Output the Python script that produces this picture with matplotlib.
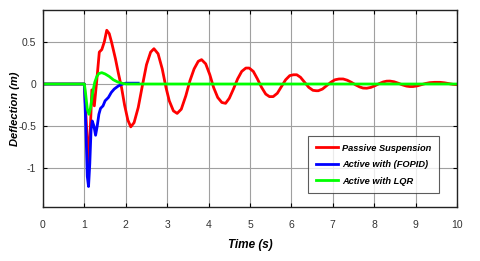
import matplotlib
matplotlib.use("Agg")
import matplotlib.pyplot as plt

# Passive suspension (red)
t_passive = [0, 1.0, 1.05, 1.1, 1.15, 1.18, 1.24, 1.3, 1.36, 1.42, 1.48, 1.54, 1.6, 1.66, 1.75, 1.82, 1.9,
             1.97, 2.05, 2.12, 2.2, 2.3, 2.4, 2.5, 2.6, 2.68, 2.78, 2.88, 2.97, 3.05, 3.15, 3.24, 3.34, 3.45,
             3.55, 3.65, 3.75, 3.83, 3.93, 4.03, 4.12, 4.22, 4.32, 4.41, 4.5, 4.6, 4.7, 4.8, 4.9, 4.98, 5.08,
             5.18, 5.28, 5.38, 5.47, 5.56, 5.66, 5.76, 5.86, 5.96, 6.05, 6.13, 6.22, 6.32, 6.42, 6.52, 6.6,
             6.65, 6.75, 6.85, 6.95, 7.05, 7.15, 7.25, 7.35, 7.45, 7.55, 7.65, 7.73, 7.82, 7.92, 8.02, 8.12,
             8.22, 8.3, 8.38, 8.48, 8.58, 8.68, 8.78, 8.86, 8.94, 9.04, 9.14, 9.24, 9.34, 9.46, 9.59, 9.7,
             9.8, 9.9, 10.0]
y_passive = [0, 0, -0.5, -0.95, -0.45, -0.07, -0.26, 0.05, 0.38, 0.41, 0.5, 0.64, 0.6, 0.49, 0.3, 0.13, -0.05,
             -0.25, -0.43, -0.51, -0.46, -0.28, -0.02, 0.23, 0.38, 0.42, 0.36, 0.18, -0.04, -0.2, -0.32, -0.35,
             -0.3, -0.14, 0.04, 0.18, 0.27, 0.29, 0.24, 0.11, -0.04, -0.16, -0.22, -0.23, -0.17, -0.06, 0.06,
             0.15, 0.19, 0.19, 0.15, 0.06, -0.04, -0.12, -0.15, -0.15, -0.11, -0.03, 0.05, 0.1, 0.11, 0.11,
             0.08, 0.02, -0.04, -0.075, -0.08, -0.08, -0.06, -0.02, 0.02, 0.05, 0.06, 0.06, 0.045, 0.02, -0.01,
             -0.035, -0.048, -0.05, -0.04, -0.02, 0.005, 0.025, 0.034, 0.035, 0.027, 0.01, -0.01, -0.025,
             -0.03, -0.03, -0.022, -0.008, 0.006, 0.016, 0.02, 0.02, 0.014, 0.005, -0.004, -0.008]

# Active with FOPID (blue)
t_fopid = [0, 1.0, 1.04, 1.07, 1.1, 1.13, 1.16, 1.19, 1.23, 1.27, 1.31, 1.35, 1.39, 1.45, 1.5, 1.58,
           1.65, 1.72, 1.8, 1.87, 1.93, 2.0, 2.3]
y_fopid = [0, 0, -0.6, -1.1, -1.22, -0.95, -0.55, -0.44, -0.5, -0.61, -0.5, -0.36, -0.29, -0.26, -0.2,
           -0.16, -0.1, -0.06, -0.03, -0.01, 0.0, 0.01, 0.01]

# Active with LQR (green)
t_lqr = [0, 1.0, 1.03, 1.07, 1.11, 1.15, 1.2, 1.25, 1.3, 1.35, 1.42, 1.5, 1.6, 1.7, 1.8, 1.9, 2.0, 10.0]
y_lqr = [0, 0, -0.12, -0.3, -0.36, -0.28, -0.1, 0.02, 0.09, 0.125, 0.135, 0.12, 0.09, 0.05, 0.025, 0.01, 0.0, 0.0]

labels = ["Passive Suspension", "Active with (FOPID)", "Active with LQR"]
x_ticks = list(range(0, 11))
y_ticks = [-1, -0.5, 0, 0.5]
y_tick_labels = ["-1", "-0.5", "0", "0.5"]

plt.rcParams['font.family'] = ['Liberation Sans', 'DejaVu Sans']

fig = plt.figure(figsize=(4.8, 2.61), dpi=100)
ax = fig.add_axes([43/480, 1-207/261, (457-43)/480, (207-10)/261])

ax.plot(t_passive, y_passive, color='#ff0000', lw=2.0, label=labels[0])
ax.plot(t_fopid, y_fopid, color='#0000ff', lw=2.0, label=labels[1])
ax.plot(t_lqr, y_lqr, color='#00ff00', lw=2.0, label=labels[2])

ax.set_xlim(0, 10)
ax.set_ylim(-1.464, 0.881)
ax.set_xticks(x_ticks)
ax.set_yticks(y_ticks)
ax.set_yticklabels(y_tick_labels)
ax.grid(True, color='#a0a0a0', lw=0.8)
ax.tick_params(direction='in', length=3, labelsize=7.5, labelcolor='#333333', top=True, right=True)
ax.tick_params(axis='x', pad=9)
ax.tick_params(axis='y', pad=5)
for s in ax.spines.values():
    s.set_linewidth(1.0)
    s.set_color('#222222')

ax.set_xlabel("Time (s)", fontsize=8.5, fontweight='bold', fontstyle='italic')
ax.set_ylabel("Deflection (m)", fontsize=8, fontweight='bold', fontstyle='italic')
ax.xaxis.set_label_coords(0.5, -0.16)
ax.yaxis.set_label_coords(-0.056, 0.5)

leg = ax.legend(loc='lower right', bbox_to_anchor=(0.968, 0.045), fontsize=6.7, frameon=True, fancybox=False,
                edgecolor='#333333', handlelength=2.4, borderpad=0.85, labelspacing=0.8, handletextpad=0.4)
for txt in leg.get_texts():
    txt.set_fontweight('bold')
    txt.set_fontstyle('italic')
leg.get_frame().set_linewidth(0.8)

fig.savefig("out.png", dpi=100)
